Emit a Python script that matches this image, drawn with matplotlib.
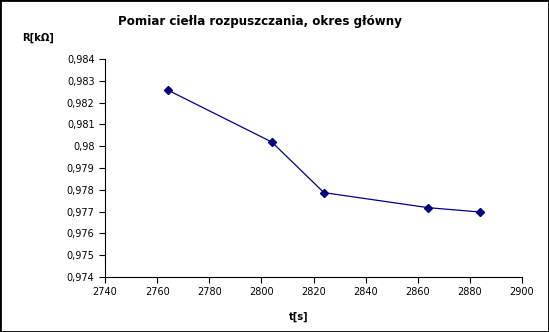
import matplotlib.pyplot as plt
from matplotlib.ticker import FuncFormatter, MultipleLocator

# measured points
t_s = [2764, 2804, 2824, 2864, 2884]
r_kohm = [0.98258, 0.98019, 0.97787, 0.97718, 0.97698]

x_ticks = list(range(2740, 2901, 20))


def comma_fmt(v, pos):
    s = f"{v:.3f}".rstrip("0").rstrip(".")
    return s.replace(".", ",")


fig = plt.figure(figsize=(5.49, 3.32), dpi=100)
fig.patches.append(plt.Rectangle((0, 0), 1, 1, transform=fig.transFigure,
                                 fill=False, edgecolor="black", linewidth=2))
ax = fig.add_axes([0.1913, 0.1657, 0.7595, 0.6566])

ax.plot(t_s, r_kohm, color="#000080", linewidth=0.9, marker="D", markersize=4.5)

ax.set_xlim(2740, 2900)
ax.set_ylim(0.974, 0.984)
ax.set_xticks(x_ticks)
ax.yaxis.set_major_locator(MultipleLocator(0.001))
ax.yaxis.set_major_formatter(FuncFormatter(comma_fmt))

for s in ["top", "right"]:
    ax.spines[s].set_visible(False)
ax.spines["left"].set_linewidth(0.8)
ax.spines["bottom"].set_linewidth(0.8)
ax.tick_params(direction="out", length=4, width=0.8, labelsize=7, pad=3.5)

fig.text(0.474, 0.935, "Pomiar ciełla rozpuszczania, okres główny",
         ha="center", va="center", fontsize=8.6, fontweight="bold")
fig.text(0.04, 0.885, "R[kΩ]", ha="left", va="center", fontsize=7.2, fontweight="bold")
fig.text(0.544, 0.047, "t[s]", ha="center", va="center", fontsize=7.2, fontweight="bold")

fig.savefig("out.png", dpi=100)
